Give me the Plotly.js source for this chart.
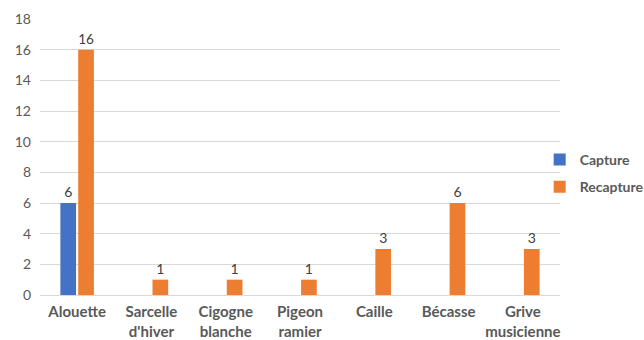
<!DOCTYPE html>
<html><head><meta charset="utf-8">
<script src="https://cdn.plot.ly/plotly-3.0.1.min.js"></script>
<style>body{margin:0;background:#fff}#c{width:644px;height:340px}</style>
</head><body><div id="c"></div>
<script>
const categories = ["Alouette", "Sarcelle<br>d'hiver", "Cigogne<br>blanche", "Pigeon<br>ramier", "Caille", "Bécasse", "Grive<br>musicienne"];
const capture = [6, null, null, null, null, null, null];
const recapture = [16, 1, 1, 1, 3, 6, 3];
const yTicks = [0, 2, 4, 6, 8, 10, 12, 14, 16, 18];

const font = "Lato, 'Open Sans', sans-serif";
const traces = [
  {type: 'bar', name: 'Capture', legendgroup: 'a', x: categories, y: capture, marker: {color: '#4472C4'},
   text: capture.map(v => v == null ? '' : String(v)), textposition: 'outside', cliponaxis: false,
   textfont: {size: 14, color: '#404040', family: font}},
  {type: 'bar', name: 'Recapture', legendgroup: 'b', x: categories, y: recapture, marker: {color: '#ED7D31'},
   text: recapture.map(String), textposition: 'outside', cliponaxis: false,
   textfont: {size: 14, color: '#404040', family: font}}
];
const layout = {
  width: 644, height: 340,
  margin: {l: 40, r: 84, t: 19, b: 45, autoexpand: false},
  paper_bgcolor: '#fff', plot_bgcolor: '#fff',
  font: {family: font, size: 13, color: '#595959'},
  barmode: 'group', bargap: 0.52, bargroupgap: 0.12,
  showlegend: true,
  legend: {xref: 'container', yref: 'container', x: 0.838, xanchor: 'left', y: 0.49, yanchor: 'middle',
           traceorder: 'grouped', tracegroupgap: 6, bgcolor: 'rgba(0,0,0,0)',
           font: {size: 14, color: '#595959', family: font, weight: 'bold'}, itemwidth: 30},
  xaxis: {tickfont: {size: 15, color: '#595959', family: font, weight: 'bold'}, showline: true, linecolor: '#d9d9d9', ticks: '', fixedrange: true, ticklabelstandoff: 3},
  yaxis: {range: [0, 18], tickvals: yTicks, ticktext: yTicks.map(String), gridcolor: '#d9d9d9', zeroline: false, showline: false,
          tickfont: {size: 14, color: '#595959', family: font}, ticklabelstandoff: 8}
};
Plotly.newPlot('c', traces, layout, {displayModeBar: false, staticPlot: true});
</script></body></html>
